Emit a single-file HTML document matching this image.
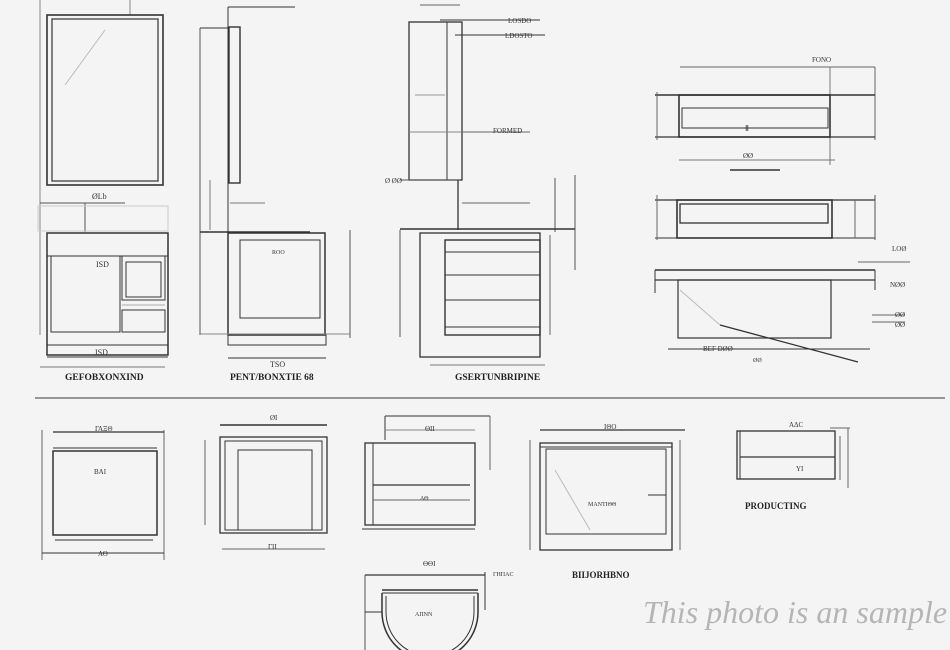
<!DOCTYPE html>
<html><head><meta charset="utf-8"><style>
html,body{margin:0;padding:0;background:#f4f4f4;}
svg{display:block}
text{font-family:"Liberation Serif",serif;fill:#333;}
</style></head><body>
<svg width="950" height="650" viewBox="0 0 950 650" xmlns="http://www.w3.org/2000/svg">
<rect width="950" height="650" fill="#f4f4f4"/>
<g fill="none" stroke="#333" stroke-width="1">
<!-- Group 1 -->
<line x1="40" y1="0" x2="40" y2="335" stroke="#888"/>
<line x1="130" y1="0" x2="130" y2="15" stroke="#888"/>
<rect x="47" y="15" width="116" height="170" stroke-width="1.6"/>
<rect x="52" y="19" width="106" height="162" stroke-width="1.2"/>
<line x1="65" y1="85" x2="105" y2="30" stroke="#bbb"/>
<line x1="40" y1="203" x2="125" y2="203" stroke="#555"/>
<line x1="85" y1="203" x2="85" y2="232" stroke="#555"/>
<rect x="38" y="206" width="130" height="25" stroke="#ccc"/>
<rect x="47" y="233" width="121" height="122" stroke-width="1.5"/>
<line x1="47" y1="256" x2="168" y2="256"/>
<rect x="51" y="256" width="69" height="76"/>
<rect x="122" y="256" width="43" height="44"/>
<rect x="126" y="262" width="35" height="35"/>
<rect x="122" y="310" width="43" height="22"/>
<line x1="122" y1="305" x2="165" y2="305" stroke="#aaa"/>
<line x1="47" y1="345" x2="168" y2="345"/>
<line x1="47" y1="357" x2="168" y2="357"/>
<line x1="40" y1="367" x2="165" y2="367" stroke="#777"/>
<!-- Group 2 -->
<line x1="228" y1="7" x2="295" y2="7"/>
<line x1="228" y1="7" x2="228" y2="183"/>
<rect x="229" y="27" width="11" height="156" stroke-width="1.4"/>
<line x1="200" y1="28" x2="228" y2="28"/>
<line x1="200" y1="28" x2="200" y2="335" stroke="#555"/>
<line x1="200" y1="232" x2="310" y2="232" stroke-width="1.4"/>
<line x1="228" y1="183" x2="228" y2="232"/>
<line x1="210" y1="180" x2="210" y2="230" stroke="#777"/>
<line x1="230" y1="203" x2="265" y2="203" stroke="#777"/>
<rect x="228" y="233" width="97" height="102" stroke-width="1.5"/>
<rect x="240" y="240" width="80" height="78"/>
<rect x="228" y="335" width="98" height="10"/>
<line x1="228" y1="358" x2="326" y2="358"/>
<line x1="350" y1="230" x2="350" y2="338" stroke="#555"/>
<line x1="200" y1="334" x2="350" y2="334" stroke="#888"/>
<!-- Group 3 -->
<line x1="420" y1="5" x2="460" y2="5" stroke="#666"/>
<rect x="409" y="22" width="53" height="158" stroke-width="1.3"/>
<line x1="447" y1="22" x2="447" y2="180"/>
<line x1="440" y1="20" x2="540" y2="20"/>
<line x1="455" y1="35" x2="545" y2="35"/>
<line x1="415" y1="95" x2="445" y2="95" stroke="#999"/>
<line x1="409" y1="132" x2="462" y2="132" stroke="#888"/>
<line x1="462" y1="132" x2="530" y2="132" stroke="#666"/>
<line x1="400" y1="180" x2="460" y2="180" stroke="#555"/>
<line x1="458" y1="180" x2="458" y2="230" stroke-width="1.3"/>
<line x1="462" y1="203" x2="530" y2="203" stroke="#666"/>
<line x1="555" y1="178" x2="555" y2="232" stroke="#555"/>
<line x1="575" y1="175" x2="575" y2="270" stroke="#555"/>
<line x1="400" y1="229" x2="575" y2="229" stroke-width="1.4"/>
<rect x="420" y="233" width="120" height="124" stroke-width="1.3"/>
<rect x="445" y="240" width="95" height="95" stroke-width="1.4"/>
<line x1="445" y1="252" x2="540" y2="252"/>
<line x1="445" y1="275" x2="540" y2="275"/>
<line x1="445" y1="300" x2="540" y2="300"/>
<line x1="445" y1="327" x2="540" y2="327"/>
<line x1="400" y1="230" x2="400" y2="337" stroke="#555"/>
<line x1="550" y1="235" x2="550" y2="335" stroke="#666"/>
<line x1="430" y1="365" x2="545" y2="365" stroke="#777"/>
<!-- Right group -->
<line x1="680" y1="67" x2="875" y2="67" stroke="#666"/>
<line x1="830" y1="67" x2="830" y2="165" stroke="#777"/>
<line x1="875" y1="67" x2="875" y2="140" stroke="#666"/>
<line x1="655" y1="95" x2="875" y2="95" stroke-width="1.4"/>
<rect x="679" y="95" width="151" height="42" stroke-width="1.6"/>
<rect x="682" y="108" width="146" height="20"/>
<line x1="655" y1="137" x2="875" y2="137" stroke-width="1.3"/>
<line x1="657" y1="92" x2="657" y2="140" stroke="#666"/>
<line x1="679" y1="160" x2="835" y2="160" stroke="#777"/>
<line x1="730" y1="170" x2="780" y2="170" stroke-width="1.5"/>
<line x1="655" y1="200" x2="875" y2="200" stroke-width="1.2"/>
<rect x="677" y="200" width="155" height="38" stroke-width="1.6"/>
<rect x="680" y="204" width="148" height="19" stroke-width="1.3"/>
<line x1="655" y1="238" x2="875" y2="238"/>
<line x1="657" y1="195" x2="657" y2="240" stroke="#666"/>
<line x1="855" y1="200" x2="855" y2="238" stroke="#666"/>
<line x1="875" y1="195" x2="875" y2="240" stroke="#555"/>
<line x1="655" y1="270" x2="875" y2="270" stroke-width="1.6"/>
<line x1="655" y1="280" x2="875" y2="280" stroke-width="1.3"/>
<line x1="655" y1="270" x2="655" y2="293"/>
<line x1="858" y1="262" x2="910" y2="262" stroke="#666"/>
<rect x="678" y="280" width="153" height="58" stroke-width="1.2"/>
<line x1="680" y1="290" x2="720" y2="325" stroke="#bbb"/>
<line x1="720" y1="325" x2="858" y2="362" stroke-width="1.3"/>
<line x1="668" y1="349" x2="870" y2="349"/>
<line x1="875" y1="270" x2="875" y2="290"/>
<line x1="872" y1="315" x2="905" y2="315" stroke="#666"/>
<line x1="872" y1="322" x2="905" y2="322" stroke="#666"/>
<!-- separator -->
<line x1="35" y1="398" x2="945" y2="398" stroke="#777" stroke-width="1.5"/>
<!-- bottom row -->
<line x1="42" y1="430" x2="42" y2="560" stroke="#666"/>
<line x1="164" y1="430" x2="164" y2="560" stroke="#666"/>
<line x1="53" y1="432" x2="164" y2="432" stroke-width="1.2"/>
<line x1="53" y1="448" x2="157" y2="448"/>
<rect x="53" y="451" width="104" height="84" stroke-width="1.5"/>
<line x1="55" y1="540" x2="153" y2="540"/>
<line x1="42" y1="553" x2="164" y2="553"/>
<line x1="220" y1="425" x2="327" y2="425" stroke-width="1.4"/>
<rect x="220" y="437" width="107" height="96" stroke-width="1.3"/>
<rect x="225" y="441" width="97" height="89"/>
<rect x="238" y="450" width="74" height="80"/>
<line x1="205" y1="440" x2="205" y2="525" stroke="#666"/>
<line x1="222" y1="549" x2="325" y2="549" stroke="#666"/>
<line x1="385" y1="416" x2="490" y2="416"/>
<line x1="385" y1="416" x2="385" y2="440"/>
<line x1="490" y1="416" x2="490" y2="470" stroke="#666"/>
<line x1="385" y1="430" x2="475" y2="430" stroke="#888"/>
<rect x="365" y="443" width="110" height="82" stroke-width="1.3"/>
<line x1="373" y1="443" x2="373" y2="525"/>
<line x1="373" y1="485" x2="470" y2="485" stroke-width="1.3"/>
<line x1="373" y1="500" x2="470" y2="500" stroke="#666"/>
<line x1="362" y1="529" x2="475" y2="529"/>
<line x1="540" y1="430" x2="685" y2="430" stroke-width="1.3"/>
<rect x="540" y="443" width="132" height="107" stroke-width="1.3"/>
<rect x="546" y="449" width="120" height="85"/>
<line x1="540" y1="447" x2="672" y2="447"/>
<line x1="680" y1="440" x2="680" y2="550" stroke="#666"/>
<line x1="648" y1="495" x2="666" y2="495"/>
<line x1="555" y1="470" x2="590" y2="530" stroke="#bbb"/>
<line x1="530" y1="440" x2="530" y2="550" stroke="#666"/>
<rect x="737" y="431" width="98" height="48" stroke-width="1.3"/>
<line x1="740" y1="457" x2="835" y2="457" stroke-width="1.2"/>
<line x1="740" y1="431" x2="740" y2="479"/>
<line x1="830" y1="428" x2="850" y2="428" stroke="#666"/>
<line x1="848" y1="428" x2="848" y2="488" stroke="#666"/>
<line x1="840" y1="436" x2="840" y2="480" stroke="#666"/>
<line x1="365" y1="575" x2="485" y2="575" stroke-width="1.3"/>
<line x1="485" y1="572" x2="485" y2="610"/>
<line x1="365" y1="575" x2="365" y2="650" stroke="#555"/>
<line x1="382" y1="590" x2="478" y2="590" stroke-width="1.5"/>
<line x1="382" y1="593" x2="478" y2="593"/>
<path d="M382 593 L382 612 A48 48 0 0 0 478 612 L478 593" stroke-width="1.5"/>
<path d="M386 596 L386 612 A44 44 0 0 0 474 612 L474 596"/>
<line x1="365" y1="612" x2="382" y2="612"/>
</g>
<g font-size="8">
<text x="92" y="199">ØLb</text>
<text x="96" y="267">ISD</text>
<text x="95" y="355">ISD</text>
<text x="65" y="380" font-size="9.5" font-weight="bold" style="fill:#222">GEFOBXONXIND</text>
<text x="272" y="254" font-size="6">ROO</text>
<text x="270" y="367">TSO</text>
<text x="230" y="380" font-size="9.5" font-weight="bold" style="fill:#222">PENT/BONXTIE 68</text>
<text x="508" y="23" font-size="7">LOSDO</text>
<text x="505" y="38" font-size="7">LDOSTO</text>
<text x="493" y="133" font-size="7">FORMED</text>
<text x="385" y="183" font-size="7">Ø ØØ</text>
<text x="455" y="380" font-size="9.5" font-weight="bold" style="fill:#222">GSERTUNBRIPINE</text>
<text x="812" y="62" font-size="7">FONO</text>
<text x="745" y="131">Ⅱ</text>
<text x="743" y="158" font-size="7">ØØ</text>
<text x="892" y="251" font-size="7">LOØ</text>
<text x="890" y="287" font-size="7">NØØ</text>
<text x="895" y="317" font-size="7">ØØ</text>
<text x="895" y="327" font-size="7">ØØ</text>
<text x="703" y="351" font-size="7">BEF DØØ</text>
<text x="753" y="362" font-size="6">ØØ</text>
<text x="95" y="431" font-size="7">ΓΑΞΘ</text>
<text x="94" y="474" font-size="7">ΒΑΙ</text>
<text x="98" y="556" font-size="7">ΑΘ</text>
<text x="270" y="420" font-size="7">ØΙ</text>
<text x="268" y="549" font-size="7">ΓΙΙ</text>
<text x="425" y="431" font-size="7">ΘΙΙ</text>
<text x="420" y="500" font-size="6">ΑΘ</text>
<text x="604" y="429" font-size="7">ΙΘΟ</text>
<text x="588" y="506" font-size="6">ΜΑΝΤΙΘΘ</text>
<text x="789" y="427" font-size="7">ΑΔC</text>
<text x="796" y="471" font-size="7">ΥΙ</text>
<text x="745" y="509" font-size="9" font-weight="bold" style="fill:#222">PRODUCTING</text>
<text x="572" y="578" font-size="9" font-weight="bold" style="fill:#222">BIIJORHBNO</text>
<text x="423" y="566" font-size="7">ΘΘΙ</text>
<text x="493" y="576" font-size="6">ΓΗΠΑC</text>
<text x="415" y="616" font-size="6">ΑΠΝΝ</text>
</g>
<text x="643" y="623" font-family="Liberation Serif,serif" font-style="italic" font-size="32" style="fill:#b5b5b5">This photo is an sample</text>
</svg>
</body></html>
